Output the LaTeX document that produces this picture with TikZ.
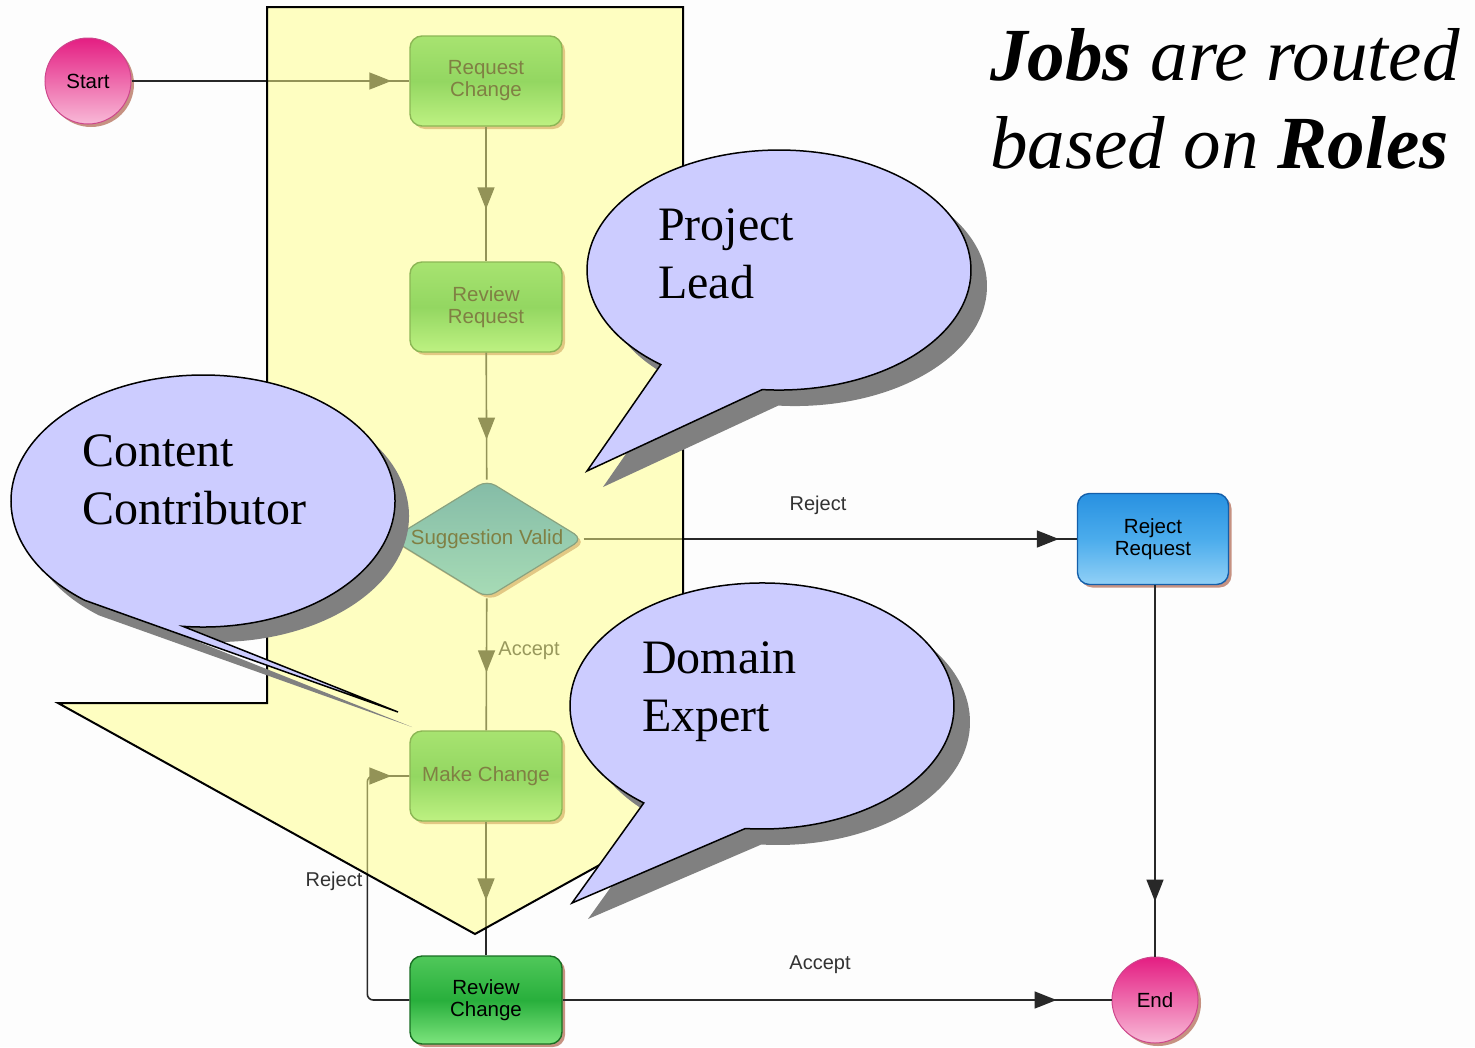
\documentclass[tikz,border=0pt]{standalone}
\usepackage{fontspec}
\setmainfont{Liberation Serif}
\newfontfamily\wfsans{Liberation Sans}
\usetikzlibrary{arrows.meta,shapes.geometric,decorations.markings,shadows}
\definecolor{bgc}{RGB}{253,253,253}
\definecolor{linec}{RGB}{40,40,40}
\definecolor{labc}{RGB}{50,50,50}
\definecolor{yel}{RGB}{255,255,135}
\definecolor{callc}{RGB}{204,204,255}
\definecolor{shadc}{RGB}{128,128,128}
\definecolor{gtop}{RGB}{80,200,90}
\definecolor{gmid}{RGB}{40,175,60}
\definecolor{gbot}{RGB}{125,228,125}
\definecolor{gbrd}{RGB}{25,110,35}
\definecolor{btop}{RGB}{40,145,225}
\definecolor{bmid}{RGB}{75,172,236}
\definecolor{bbot}{RGB}{145,208,246}
\definecolor{bbrd}{RGB}{20,95,170}
\definecolor{ptop}{RGB}{228,30,130}
\definecolor{pbot}{RGB}{248,185,215}
\definecolor{pbrd}{RGB}{205,70,140}
\definecolor{dtop}{RGB}{10,120,200}
\definecolor{dbot}{RGB}{80,185,230}
\definecolor{dbrd}{RGB}{20,70,120}
\definecolor{nshad}{RGB}{185,120,100}
\begin{document}
\begin{tikzpicture}[x=1pt,y=-1pt,
  wftext/.style={font=\wfsans\fontsize{20.5}{22}\selectfont, align=center, text=black},
  nshadow/.style={drop shadow={shadow xshift=3pt,shadow yshift=-3pt,fill=nshad,opacity=0.8}},
  taskbox/.style={wftext, rectangle, rounded corners=12pt, minimum width=152pt, minimum height=90pt, inner sep=2pt, line width=1.4pt, nshadow},
  greenbox/.style={taskbox, draw=gbrd, top color=gtop, bottom color=gbot, middle color=gmid},
  bluebox/.style={taskbox, draw=bbrd, top color=btop, bottom color=bbot, middle color=bmid},
  ballnode/.style={wftext, circle, minimum size=86pt, inner sep=0pt, draw=pbrd, line width=1pt, top color=ptop, bottom color=pbot, nshadow},
  decnode/.style={diamond, minimum width=192pt, minimum height=118pt, inner sep=0pt, rounded corners=10pt, draw=dbrd, line width=1.2pt, top color=dtop, bottom color=dbot, nshadow},
  wfedge/.style={draw=linec, line width=1.6pt},
  tipat/.style={postaction={decorate,decoration={markings,mark=at position #1 with {\arrow{Triangle[length=22pt,width=17pt,color=linec]}}}}},
  elabel/.style={font=\wfsans\fontsize{20}{22}\selectfont, text=labc, inner sep=0pt},
  callout/.style={fill=callc, draw=black, line width=1.5pt, line join=miter},
  callshadow/.style={fill=shadc},
  calltext/.style={font=\fontsize{48}{58}\selectfont, align=left, inner sep=0pt, anchor=base west}
]
\useasboundingbox (0,0) rectangle (1475,1047);
\fill[bgc] (0,0) rectangle (1475,1047);

% workflow nodes
\node[ballnode] (start) at (88,81) {Start};
\node[greenbox] (reqchange) at (486,81) {Request\\Change};
\node[greenbox] (revrequest) at (486,307) {Review\\Request};
\node[decnode, label={[wftext]center:Suggestion Valid}] (valid) at (487,539) {};
\node[greenbox] (makechange) at (486,776) {Make Change};
\node[greenbox, minimum height=88pt] (revchange) at (486,1000) {Review\\Change};
\node[bluebox, minimum width=151pt, minimum height=91pt] (rejreq) at (1153,539) {Reject\\Request};
\node[ballnode] (endn) at (1155,1000) {End};

% connectors
\draw[wfedge, tipat=-18pt] (start) -- (reqchange);
\draw[wfedge, tipat=-52pt] (reqchange) -- (revrequest);
\draw[wfedge, tipat=-40pt] (revrequest) -- (valid);
\draw[wfedge, tipat=-58pt] (valid) -- (makechange);
\draw[wfedge, tipat=-55pt] (makechange) -- (revchange);
\draw[wfedge, tipat=-18pt] (valid) -- (rejreq);
\draw[wfedge, tipat=-55pt] (rejreq.south -| endn) -- (endn);
\draw[wfedge, tipat=-55pt] (revchange) -- (endn);
\draw[wfedge, rounded corners=6pt, tipat=-18pt] (revchange.west) -- ++(-42,0) |- (makechange.west);

% connector labels
\node[elabel] (lrej1) at (818,505) {Reject};
\node[elabel] (lacc1) at (529,651) {Accept};
\node[elabel] (lacc2) at (820,965) {Accept};
\node[elabel] (lrej2) at (334,881) {Reject};

% big yellow arrow (semi transparent overlay)
\fill[yel, opacity=0.5] (267,7) -- (683,7) -- (683,703) -- (892,703) -- (475,934) -- (58,703) -- (267,703) -- cycle;
\draw[black, line width=2pt, line join=miter] (267,7) -- (683,7) -- (683,703) -- (892,703) -- (475,934) -- (58,703) -- (267,703) -- cycle;

% callout: Project Lead
\begin{scope}[shift={(16,16)}]
\fill[callshadow] (587,471) -- (660.8,364.6) arc[start angle=128, end angle=455, x radius=192, y radius=120] -- cycle;
\end{scope}
\draw[callout] (587,471) -- (660.8,364.6) arc[start angle=128, end angle=455, x radius=192, y radius=120] -- cycle;
\node[calltext] (tpl) at (658,298) {Project\\Lead};

% callout: Content Contributor
\begin{scope}[shift={(14,15)}]
\fill[callshadow] (398,712) -- (84.8,600.3) arc[start angle=128, end angle=456, x radius=192, y radius=126] -- cycle;
\end{scope}
\draw[callout] (398,712) -- (84.8,600.3) arc[start angle=128, end angle=456, x radius=192, y radius=126] -- cycle;
\node[calltext] (tcc) at (82,524) {Content\\Contributor};

% callout: Domain Expert
\begin{scope}[shift={(16,16)}]
\fill[callshadow] (572,903) -- (643.8,802.9) arc[start angle=128, end angle=455, x radius=192, y radius=123] -- cycle;
\end{scope}
\draw[callout] (572,903) -- (643.8,802.9) arc[start angle=128, end angle=455, x radius=192, y radius=123] -- cycle;
\node[calltext] (tde) at (642,731) {Domain\\Expert};

% title
\node[anchor=base west, align=left, inner sep=0pt, font=\itshape\fontsize{75}{88}\selectfont] (title) at (990,168) {\textbf{Jobs} are routed\\based on \textbf{Roles}};
\end{tikzpicture}
\end{document}
